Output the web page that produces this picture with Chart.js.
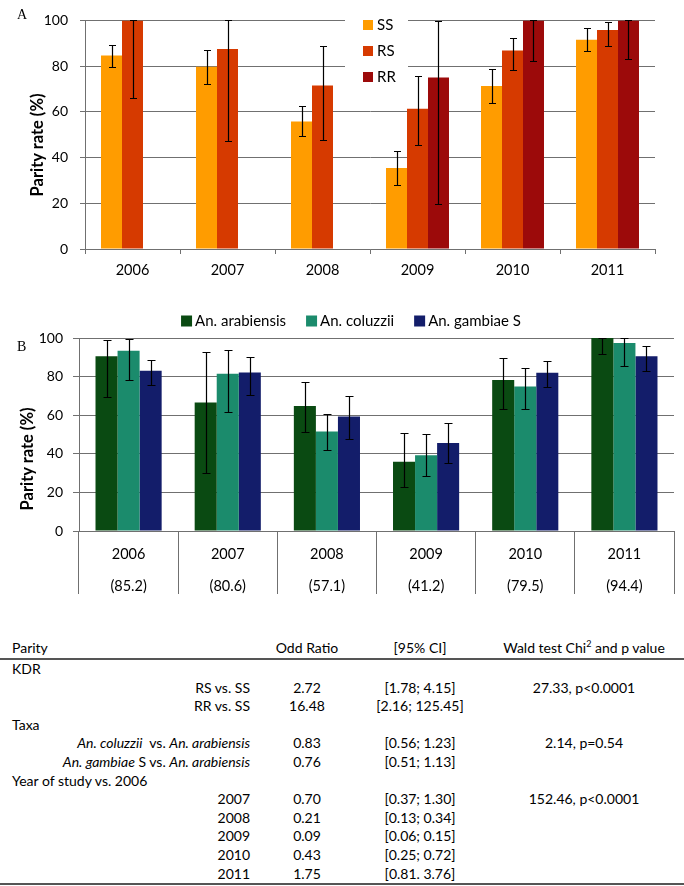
<!DOCTYPE html>
<html>
<head>
<meta charset="utf-8">
<script src="https://cdn.jsdelivr.net/npm/chart.js@4.4.1/dist/chart.umd.min.js"></script>
<style>
  body { margin: 0; width: 684px; height: 886px; position: relative; background: #fff; font-family: Lato, sans-serif; overflow: hidden; color: #000; }
  .panel { position: absolute; left: 0; }
  .tag { position: absolute; font-family: 'Liberation Serif', serif; font-size: 14px; line-height: 16px; }
  .ytitle { position: absolute; width: 140px; height: 20px; line-height: 20px; text-align: center; font-weight: bold; font-size: 16.5px; transform: rotate(-90deg); white-space: nowrap; }
  #stats { position: absolute; left: 0; top: 638px; width: 690px; table-layout: fixed; border-collapse: separate; border-spacing: 0; font-size: 14px; }
  #stats th { font-weight: normal; height: 20px; line-height: 20px; padding: 0; border-bottom: 2px solid #555; text-align: center; }
  #stats td { height: 18.6px; line-height: 18.6px; padding: 0; text-align: center; white-space: nowrap; }
  #stats .l { text-align: left; padding-left: 12px; }
  #stats .r { text-align: right; padding-right: 2px; }
  #stats tr.last td { border-bottom: 2px solid #555; }
  #stats sup { font-size: 9px; line-height: 0; }
</style>
</head>
<body>

<div class="panel" style="top:0"><canvas id="chartA" width="684" height="300"></canvas></div>
<div class="panel" style="top:300px"><canvas id="chartB" width="684" height="300"></canvas></div>

<div class="tag" style="left:17px; top:7px">A</div>
<div class="tag" style="left:17px; top:339px">B</div>
<div class="ytitle" style="left:-33px; top:135px">Parity rate (%)</div>
<div class="ytitle" style="left:-43px; top:449px">Parity rate (%)</div>

<table id="stats">
  <colgroup><col style="width:252px"><col style="width:110px"><col style="width:116px"><col style="width:212px"></colgroup>
  <thead>
    <tr><th class="l">Parity</th><th>Odd Ratio</th><th>[95% CI]</th><th>Wald test Chi<sup>2</sup> and p value</th></tr>
  </thead>
  <tbody>
    <tr><td class="l">KDR</td><td></td><td></td><td></td></tr>
    <tr><td class="r">RS vs. SS</td><td>2.72</td><td>[1.78; 4.15]</td><td>27.33, p&lt;0.0001</td></tr>
    <tr><td class="r">RR vs. SS</td><td>16.48</td><td>[2.16; 125.45]</td><td></td></tr>
    <tr><td class="l">Taxa</td><td></td><td></td><td></td></tr>
    <tr><td class="r"><i>An. coluzzii</i>&nbsp; vs. <i>An. arabiensis</i></td><td>0.83</td><td>[0.56; 1.23]</td><td>2.14, p=0.54</td></tr>
    <tr><td class="r"><i>An. gambiae</i> S vs. <i>An. arabiensis</i></td><td>0.76</td><td>[0.51; 1.13]</td><td></td></tr>
    <tr><td class="l">Year of study vs. 2006</td><td></td><td></td><td></td></tr>
    <tr><td class="r">2007</td><td>0.70</td><td>[0.37; 1.30]</td><td>152.46, p&lt;0.0001</td></tr>
    <tr><td class="r">2008</td><td>0.21</td><td>[0.13; 0.34]</td><td></td></tr>
    <tr><td class="r">2009</td><td>0.09</td><td>[0.06; 0.15]</td><td></td></tr>
    <tr><td class="r">2010</td><td>0.43</td><td>[0.25; 0.72]</td><td></td></tr>
    <tr class="last"><td class="r">2011</td><td>1.75</td><td>[0.81. 3.76]</td><td></td></tr>
  </tbody>
</table>

<script>
// --- data ---
const years = ['2006', '2007', '2008', '2009', '2010', '2011'];
const rateTicks = [0, 20, 40, 60, 80, 100];

// panel A: kdr genotypes
const ssRate = [84.6, 79.7, 55.8, 35.4, 71.3, 91.5];
const ssLow  = [79.7, 72.1, 49.3, 27.9, 63.8, 86.5];
const ssHigh = [89.4, 87.1, 62.4, 43.0, 78.8, 96.5];
const rsRate = [100, 87.5, 71.5, 61.4, 86.8, 95.8];
const rsLow  = [66.1, 47.2, 47.8, 45.4, 78.3, 88.8];
const rsHigh = [100, 100, 88.9, 75.6, 92.4, 99.2];
const rrRate = [null, null, null, 75.0, 100, 100];
const rrLow  = [null, null, null, 19.5, 82.2, 83.2];
const rrHigh = [null, null, null, 99.6, 100, 100];

// panel B: taxa
const arabRate = [90.5, 66.6, 64.8, 35.9, 78.3, 100];
const arabLow  = [69.3, 29.8, 51.1, 22.7, 63.1, 91.9];
const arabHigh = [98.8, 92.5, 77.1, 50.6, 89.6, 100];
const coluRate = [93.4, 81.5, 51.6, 39.3, 74.9, 97.4];
const coluLow  = [78.0, 61.7, 42.1, 28.6, 63.3, 85.6];
const coluHigh = [99.5, 93.6, 60.8, 50.4, 84.4, 100];
const gambRate = [83.0, 82.1, 59.3, 45.6, 82.0, 90.5];
const gambLow  = [75.9, 70.5, 47.7, 35.0, 74.4, 83.0];
const gambHigh = [88.4, 90.3, 70.0, 56.2, 87.9, 95.7];
const overallRate = ['85.2', '80.6', '57.1', '41.2', '79.5', '94.4'];

Chart.defaults.font.family = 'Lato, sans-serif';
Chart.defaults.color = '#000';

const gridGrey = '#707070';

// error bars drawn through the y scale
const errorBars = {
    id: 'errorBars',
    afterDatasetsDraw(chart, args, opts) {
        const ctx = chart.ctx;
        const yScale = chart.scales.y;
        ctx.save();
        ctx.strokeStyle = '#000';
        ctx.lineWidth = 1.2;
        chart.data.datasets.forEach((ds, i) => {
            chart.getDatasetMeta(i).data.forEach((bar, j) => {
                if (ds.data[j] == null || ds.errLow[j] == null) return;
                const x = Math.round(bar.x) + 0.5;
                const y1 = Math.round(yScale.getPixelForValue(ds.errHigh[j])) + 0.5;
                const y2 = Math.round(yScale.getPixelForValue(ds.errLow[j])) + 0.5;
                ctx.beginPath();
                ctx.moveTo(x, y1); ctx.lineTo(x, y2);
                ctx.moveTo(x - opts.cap, y1); ctx.lineTo(x + opts.cap, y1);
                ctx.moveTo(x - opts.cap, y2); ctx.lineTo(x + opts.cap, y2);
                ctx.stroke();
            });
        });
        ctx.restore();
    }
};

// simple box legend (vertical inside plot for A, centred row for B)
const boxLegend = {
    id: 'boxLegend',
    afterDraw(chart, args, opts) {
        const ctx = chart.ctx;
        const sets = chart.data.datasets;
        ctx.save();
        if (opts.bg) {
            ctx.fillStyle = '#fff';
            ctx.fillRect(opts.bg[0], opts.bg[1], opts.bg[2], opts.bg[3]);
        }
        ctx.font = opts.font;
        ctx.textBaseline = 'middle';
        let x = opts.x, y = opts.y;
        if (!opts.vertical) {
            const total = sets.reduce((w, ds) => w + opts.box + opts.gap + ctx.measureText(ds.label).width, 0) + opts.step * (sets.length - 1);
            x = opts.cx - total / 2;
        }
        sets.forEach(ds => {
            ctx.fillStyle = ds.backgroundColor;
            ctx.fillRect(x, y - opts.box / 2, opts.box, opts.box);
            ctx.fillStyle = '#000';
            ctx.fillText(ds.label, x + opts.box + opts.gap, y);
            if (opts.vertical) y += opts.step;
            else x += opts.box + opts.gap + ctx.measureText(ds.label).width + opts.step;
        });
        ctx.restore();
    }
};

function rateAxis(width, tickPad, tickLen) {
    return {
        min: 0, max: 100,
        afterBuildTicks: s => { s.ticks = rateTicks.map(v => ({ value: v })); },
        afterFit: s => { s.width = width; },
        grid: { color: gridGrey, tickLength: tickLen },
        border: { color: gridGrey },
        ticks: { padding: tickPad, font: { size: 14 } }
    };
}

// --- Panel A ---
new Chart(document.getElementById('chartA'), {
    type: 'bar',
    data: {
        labels: years,
        datasets: [
            { label: 'SS', data: ssRate, errLow: ssLow, errHigh: ssHigh, backgroundColor: '#FF9C00' },
            { label: 'RS', data: rsRate, errLow: rsLow, errHigh: rsHigh, backgroundColor: '#D63A00' },
            { label: 'RR', data: rrRate, errLow: rrLow, errHigh: rrHigh, backgroundColor: '#9C0A0A' }
        ]
    },
    options: {
        responsive: false,
        animation: false,
        categoryPercentage: 0.663,
        barPercentage: 1,
        layout: { padding: { top: 9, right: 29, left: 0, bottom: 0 } },
        scales: {
            x: {
                afterFit: s => { s.height = 51; },
                grid: { drawOnChartArea: false, offset: true, tickLength: 5, color: gridGrey },
                border: { color: gridGrey },
                ticks: { padding: 8, font: { size: 14.5 } }
            },
            y: rateAxis(85, 12, 5)
        },
        plugins: {
            legend: { display: false },
            tooltip: { enabled: false },
            errorBars: { cap: 3.5 },
            boxLegend: { vertical: true, x: 363, y: 25, box: 10, gap: 4, step: 26, font: '15px Lato', bg: [345, 11, 63, 80] }
        }
    },
    plugins: [errorBars, boxLegend]
});

// --- Panel B ---
new Chart(document.getElementById('chartB'), {
    type: 'bar',
    data: {
        labels: years.map((yr, i) => [yr, '(' + overallRate[i] + ')']),
        datasets: [
            { label: 'An. arabiensis', data: arabRate, errLow: arabLow, errHigh: arabHigh, backgroundColor: '#0A4A12' },
            { label: 'An. coluzzii', data: coluRate, errLow: coluLow, errHigh: coluHigh, backgroundColor: '#1B8B6C' },
            { label: 'An. gambiae S', data: gambRate, errLow: gambLow, errHigh: gambHigh, backgroundColor: '#131D6A' }
        ]
    },
    options: {
        responsive: false,
        animation: false,
        categoryPercentage: 0.667,
        barPercentage: 1,
        layout: { padding: { top: 38, right: 10, left: 0, bottom: 0 } },
        scales: {
            x: {
                afterFit: s => { s.height = 69; },
                grid: { drawOnChartArea: false, offset: true, tickLength: 63, color: gridGrey },
                border: { color: gridGrey },
                ticks: { padding: -56, font: { size: 14.5, lineHeight: 2.2 } }
            },
            y: rateAxis(79, 10, 6)
        },
        plugins: {
            legend: { display: false },
            tooltip: { enabled: false },
            errorBars: { cap: 4 },
            boxLegend: { vertical: false, cx: 351, y: 21, box: 11, gap: 3, step: 20, font: '15px Lato' }
        }
    },
    plugins: [errorBars, boxLegend]
});
</script>
</body>
</html>
